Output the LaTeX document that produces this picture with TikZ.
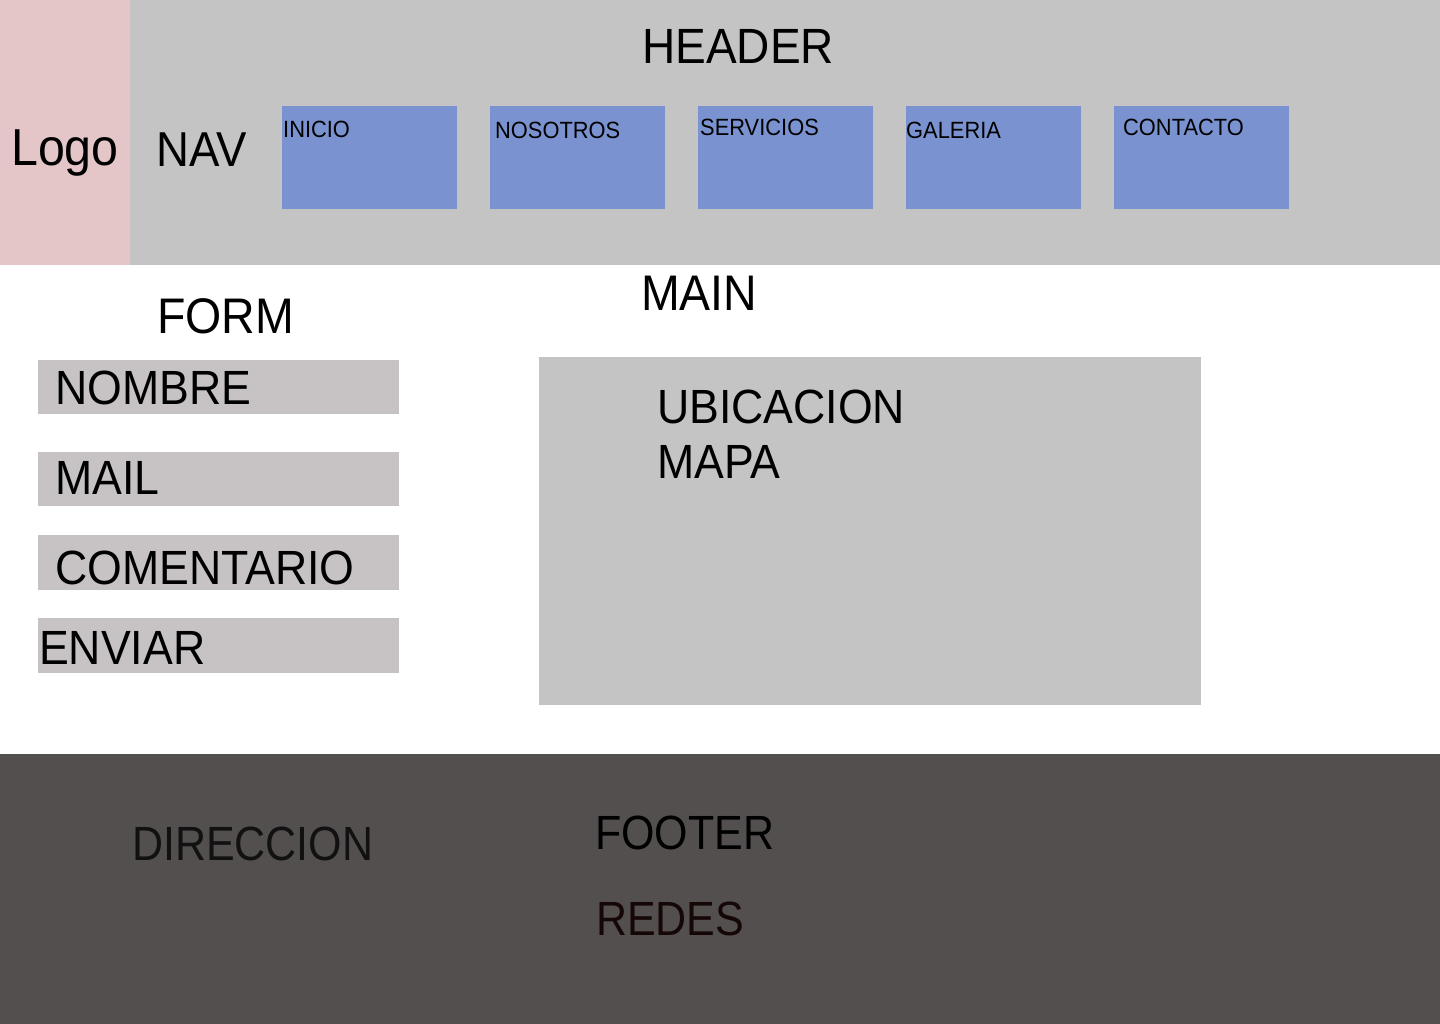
\documentclass[tikz,border=0pt]{standalone}
\usepackage{fontspec}
\setmainfont[FakeStretch=0.93]{Liberation Sans}
\newfontfamily\footfont[FakeStretch=0.895]{Liberation Sans}
\definecolor{hdrgray}{HTML}{C4C4C4}
\definecolor{logopink}{HTML}{E4C6C9}
\definecolor{navblue}{HTML}{7A93D0}
\definecolor{fieldgray}{HTML}{C7C3C4}
\definecolor{footgray}{HTML}{524F4E}
\definecolor{darktxt}{HTML}{111111}
\definecolor{redtxt}{HTML}{160707}
\tikzset{
  lbl/.style={anchor=base west,inner sep=0pt,text=black},
  big/.style={lbl,font=\fontsize{50}{60}\selectfont},
  mid/.style={lbl,font=\fontsize{48}{60}\selectfont},
  foot/.style={lbl,font=\footfont\fontsize{48}{60}\selectfont},
  small/.style={lbl,font=\fontsize{23.5}{28}\selectfont},
}
\begin{document}
\begin{tikzpicture}[x=1pt,y=-1pt]
\useasboundingbox (0,0) rectangle (1440,1024);
% header
\fill[hdrgray] (0,0) rectangle (1440,265);
\fill[logopink] (0,0) rectangle (130,265);
\node[big,font=\fontsize{49.5}{60}\selectfont] (header) at (642,64) {HEADER};
\node[big,font=\fontsize{52}{60}\selectfont] (logo) at (11,166) {Logo};
\node[big,font=\fontsize{49}{60}\selectfont] (nav) at (156,167) {NAV};
% nav items
\fill[navblue] (282,106) rectangle (457,209);
\fill[navblue] (490,106) rectangle (665,209);
\fill[navblue] (698,106) rectangle (873,209);
\fill[navblue] (906,106) rectangle (1081,209);
\fill[navblue] (1114,106) rectangle (1289,209);
\node[small] (inicio) at (283,138) {INICIO};
\node[small] (nosotros) at (495,139) {NOSOTROS};
\node[small] (servicios) at (700,136) {SERVICIOS};
\node[small] (galeria) at (906,139) {GALERIA};
\node[small] (contacto) at (1123,136) {CONTACTO};
% main
\node[big] (main) at (641,311) {MAIN};
\node[big] (form) at (157,333) {FORM};
\fill[fieldgray] (38,360) rectangle (399,414);
\fill[fieldgray] (38,452) rectangle (399,506);
\fill[fieldgray] (38,535) rectangle (399,590);
\fill[fieldgray] (38,618) rectangle (399,673);
\node[mid] (nombre) at (55,404) {NOMBRE};
\node[mid] (mail) at (55,494) {MAIL};
\node[mid] (comentario) at (55,584) {COMENTARIO};
\node[mid] (enviar) at (39,664) {ENVIAR};
\fill[hdrgray] (539,357) rectangle (1201,705);
\node[mid] (ubicacion) at (657,423) {UBICACION};
\node[mid] (mapa) at (657,478) {MAPA};
% footer
\fill[footgray] (0,754) rectangle (1440,1024);
\node[foot,text=darktxt] (direccion) at (132,860) {DIRECCION};
\node[foot] (footer) at (595,849) {FOOTER};
\node[foot,text=redtxt] (redes) at (596,935) {REDES};
\end{tikzpicture}
\end{document}
